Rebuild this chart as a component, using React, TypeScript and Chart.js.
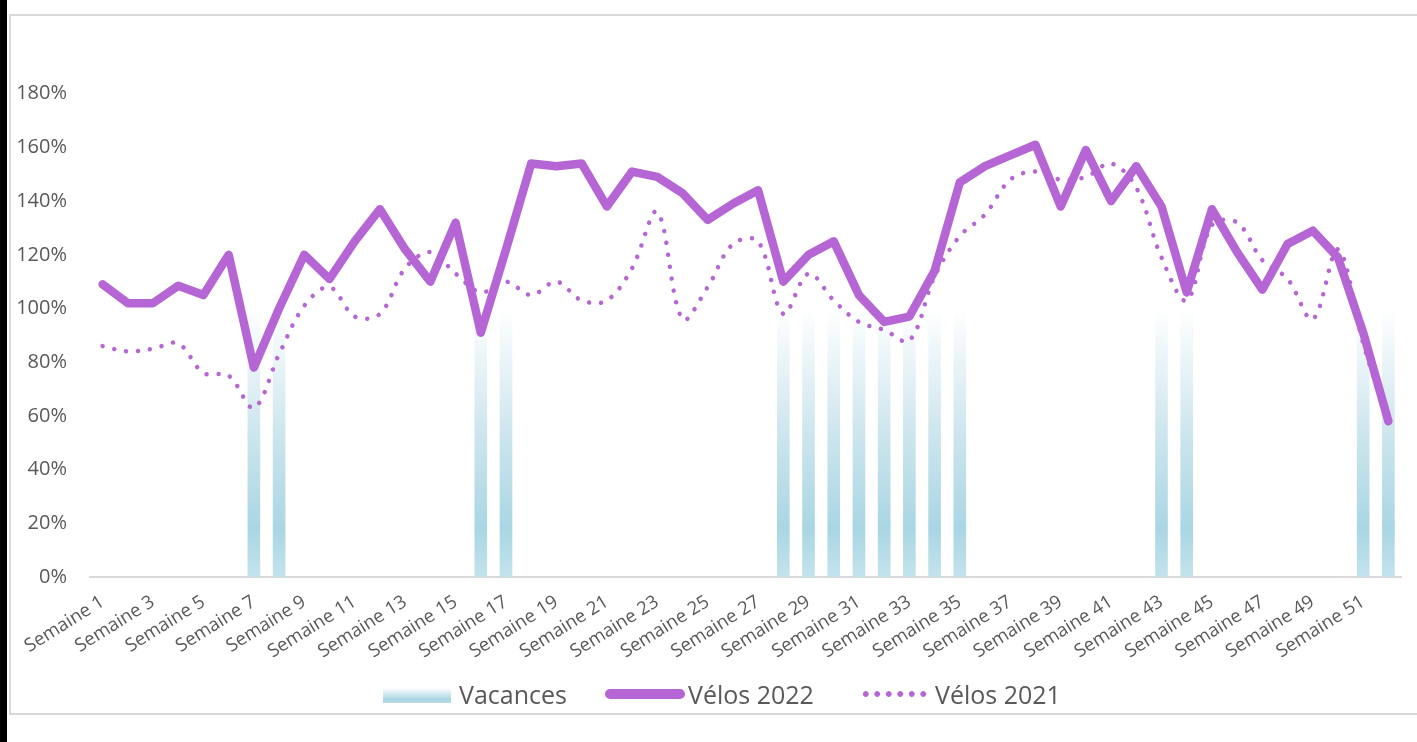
import React, { useEffect, useRef } from 'react';
import { Chart, registerables } from 'chart.js';

Chart.register(...registerables);

const weeks = [
  'Semaine 1', 'Semaine 2', 'Semaine 3', 'Semaine 4', 'Semaine 5', 'Semaine 6', 'Semaine 7', 'Semaine 8',
  'Semaine 9', 'Semaine 10', 'Semaine 11', 'Semaine 12', 'Semaine 13', 'Semaine 14', 'Semaine 15', 'Semaine 16',
  'Semaine 17', 'Semaine 18', 'Semaine 19', 'Semaine 20', 'Semaine 21', 'Semaine 22', 'Semaine 23', 'Semaine 24',
  'Semaine 25', 'Semaine 26', 'Semaine 27', 'Semaine 28', 'Semaine 29', 'Semaine 30', 'Semaine 31', 'Semaine 32',
  'Semaine 33', 'Semaine 34', 'Semaine 35', 'Semaine 36', 'Semaine 37', 'Semaine 38', 'Semaine 39', 'Semaine 40',
  'Semaine 41', 'Semaine 42', 'Semaine 43', 'Semaine 44', 'Semaine 45', 'Semaine 46', 'Semaine 47', 'Semaine 48',
  'Semaine 49', 'Semaine 50', 'Semaine 51', 'Semaine 52',
];

// Holiday weeks (100% bars), null otherwise
const vacances = [
  null, null, null, null, null, null, 100, 100,
  null, null, null, null, null, null, null, 100,
  100, null, null, null, null, null, null, null,
  null, null, null, 100, 100, 100, 100, 100,
  100, 100, 100, null, null, null, null, null,
  null, null, 100, 100, null, null, null, null,
  null, null, 100, 100,
];

const velos2022 = [
  109, 102, 102, 108.5, 105, 120, 78, 100,
  120, 111, 125, 137, 122, 110, 132, 91,
  122, 154, 153, 154, 138, 151, 149, 143,
  133, 139, 144, 110, 120, 125, 105, 95,
  97, 114, 147, 153, 157, 161, 138, 159,
  140, 153, 138, 106, 137, 121, 107, 124,
  129, 119, 91, 58,
];

const velos2021 = [
  86, 84, 85, 87, 76, 75, 63, 83,
  101, 108, 97, 98, 115, 121, 113, 106,
  110, 105, 110, 103, 103, 115, 136, 96,
  108, 124, 125, 98, 113, 103, 95, 92,
  88, 112, 127, 135, 148, 151, 148, 149,
  154, 145, 119, 103, 131, 132, 118, 111,
  96, 122, 87, 57,
];

const yMin = 0;
const yMax = 200;
const yStep = 20;

const PURPLE = '#b565d4';
const TEXT = '#595959';
const FONT = '"Open Sans", sans-serif';

export default function App() {
  const canvasRef = useRef<HTMLCanvasElement | null>(null);

  useEffect(() => {
    const canvas = canvasRef.current;
    if (!canvas) return;
    const chart = new Chart(canvas, {
      type: 'bar',
      data: {
        labels: weeks,
        datasets: [
          {
            type: 'line',
            label: 'Vélos 2021',
            data: velos2021,
            borderColor: PURPLE,
            borderWidth: 4.5,
            borderDash: [0.01, 12],
            borderCapStyle: 'round',
            tension: 0.35,
            pointRadius: 0,
            fill: false,
            order: 1,
          },
          {
            type: 'line',
            label: 'Vélos 2022',
            data: velos2022,
            borderColor: PURPLE,
            borderWidth: 8.5,
            borderCapStyle: 'round',
            borderJoinStyle: 'round',
            tension: 0,
            pointRadius: 0,
            fill: false,
            order: 2,
          },
          {
            type: 'bar',
            label: 'Vacances',
            data: vacances,
            barThickness: 12,
            backgroundColor: (ctx: any) => {
              const ch = ctx.chart;
              const area = ch.chartArea;
              if (!area) return '#a9d6e3';
              const y0 = ch.scales.y.getPixelForValue(0);
              const y1 = ch.scales.y.getPixelForValue(100);
              const g = ch.ctx.createLinearGradient(0, y0, 0, y1);
              g.addColorStop(0, '#c3e3ec');
              g.addColorStop(0.18, '#a9d6e3');
              g.addColorStop(0.55, '#cfe6ee');
              g.addColorStop(1, '#ffffff');
              return g;
            },
            borderWidth: 0,
            order: 3,
          },
        ],
      },
      options: {
        responsive: false,
        animation: false,
        layout: { padding: { left: 0, right: 16, top: 40, bottom: 65 } },
        plugins: {
          legend: { display: false },
          tooltip: { enabled: false },
        },
        scales: {
          x: {
            offset: true,
            grid: { display: false, drawTicks: false },
            border: { display: true, color: '#d9d9d9', width: 2 },
            ticks: {
              autoSkip: false,
              minRotation: 32,
              maxRotation: 32,
              padding: 14,
              color: TEXT,
              font: { family: FONT, size: 18.5 },
              callback: (_v: any, i: number) => (i % 2 === 0 ? weeks[i] : ''),
            },
            afterFit: (scale: any) => {
              scale.height = 100;
            },
          },
          y: {
            min: yMin,
            max: yMax,
            grid: { display: false, drawTicks: false },
            border: { display: false },
            ticks: {
              stepSize: yStep,
              padding: 23,
              color: TEXT,
              font: { family: FONT, size: 20 },
              callback: (v: any) => (v >= yMax ? '' : v + '%'),
            },
            afterFit: (scale: any) => {
              scale.width = 90;
            },
          },
        },
      },
    } as any);
    return () => chart.destroy();
  }, []);

  const legendText: React.CSSProperties = {
    position: 'absolute',
    fontFamily: FONT,
    fontSize: 25,
    color: TEXT,
    lineHeight: '30px',
    top: 679,
    whiteSpace: 'nowrap',
  };

  return (
    <div style={{ position: 'absolute', left: 0, top: 0, width: 1417, height: 742, overflow: 'hidden', background: '#fff' }}>
      <div style={{ position: 'absolute', left: 0, top: 0, width: 7, height: 742, background: '#000' }} />
      <div
        style={{
          position: 'absolute',
          left: 9,
          top: 14,
          width: 1450,
          height: 697,
          border: '2px solid #d9d9d9',
        }}
      />
      <canvas
        ref={canvasRef}
        width={1417}
        height={742}
        style={{ position: 'absolute', left: 0, top: 0, width: 1417, height: 742 }}
      />
      <div
        style={{
          position: 'absolute',
          left: 383,
          top: 688,
          width: 68,
          height: 15,
          background: 'linear-gradient(to top, #b5dce7 0%, #a9d6e3 25%, #ffffff 100%)',
        }}
      />
      <div style={{ ...legendText, left: 459 }}>Vacances</div>
      <div
        style={{
          position: 'absolute',
          left: 605,
          top: 689,
          width: 80,
          height: 10,
          borderRadius: 5,
          background: PURPLE,
        }}
      />
      <div style={{ ...legendText, left: 688 }}>Vélos 2022</div>
      <div
        style={{
          position: 'absolute',
          left: 860,
          top: 691,
          width: 68,
          height: 6,
          backgroundImage: `radial-gradient(circle, ${PURPLE} 2.6px, transparent 3.1px)`,
          backgroundSize: '11.5px 6px',
          backgroundRepeat: 'repeat-x',
        }}
      />
      <div style={{ ...legendText, left: 935 }}>Vélos 2021</div>
    </div>
  );
}
